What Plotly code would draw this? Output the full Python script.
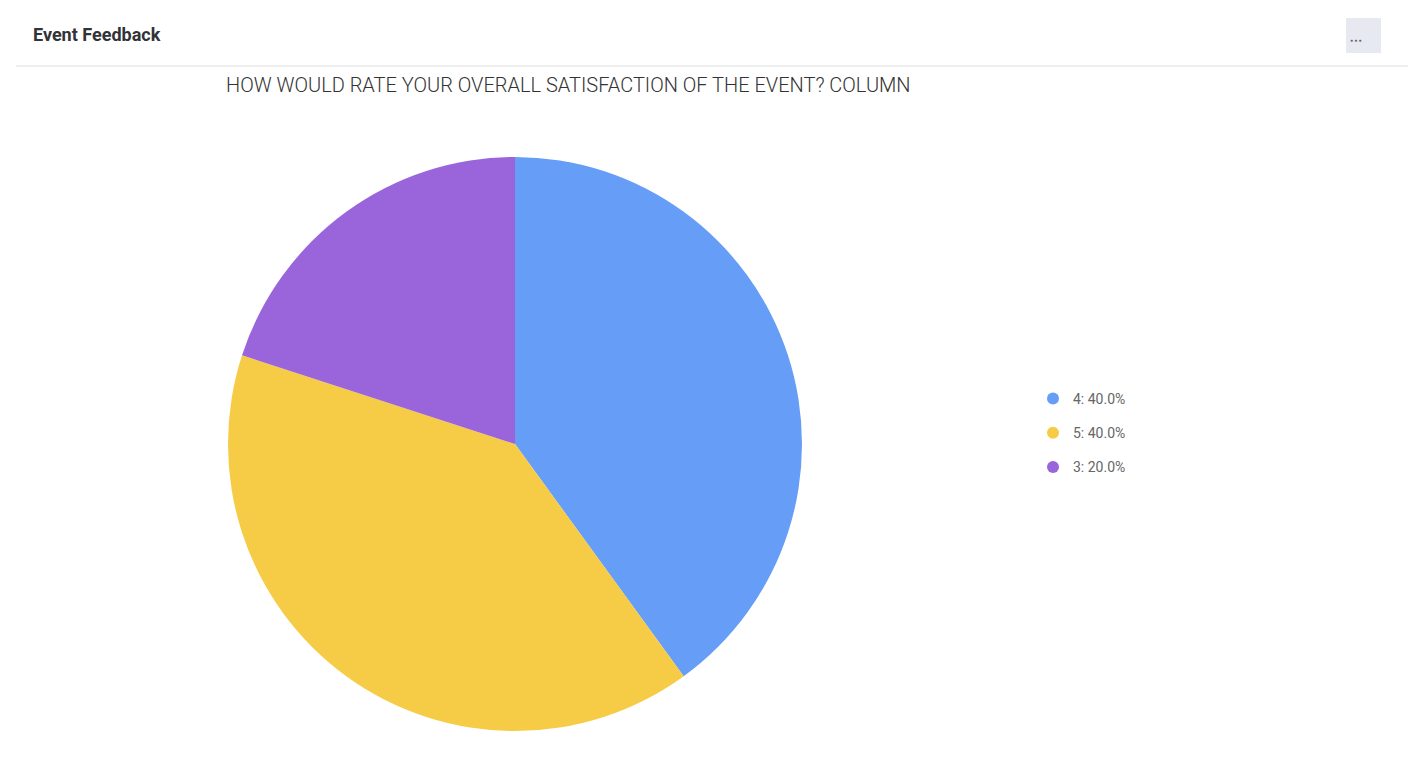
import plotly.graph_objects as go

ratings = ["4", "5", "3"]
shares = [40, 40, 20]
colors = ["#669df6", "#f6cb45", "#9a64da"]

W, H = 1424, 779
OX, OY = 8, 8  # page body margin offset


def px(x):
    return (x - OX) / W


def py(y):
    return 1 - (y - OY) / H


fig = go.Figure()
fig.add_trace(go.Pie(labels=ratings, values=shares, marker=dict(colors=colors, line=dict(width=0)),
                     sort=False, direction="clockwise", textinfo="none", showlegend=False,
                     domain=dict(x=[px(228), px(802)], y=[py(731), py(157)])))
# legend entries with round markers
for r, s, c in zip(ratings, shares, colors):
    fig.add_trace(go.Scatter(x=[None], y=[None], mode="markers", name=f"{r}: {s:.1f}%",
                             legendgroup=r, marker=dict(color=c, size=14, symbol="circle")))

fig.update_layout(
    width=W, height=H, margin=dict(l=0, r=0, t=0, b=0),
    paper_bgcolor="white", plot_bgcolor="white",
    font=dict(family="Roboto", color="#555"),
    xaxis=dict(visible=False), yaxis=dict(visible=False),
    legend=dict(x=px(1033), y=py(433), yanchor="middle", xanchor="left",
                font=dict(size=14, color="#666"), tracegroupgap=13, itemsizing="constant"),
    shapes=[
        dict(type="line", xref="paper", yref="paper", x0=px(16), x1=px(1408), y0=py(66), y1=py(66),
             line=dict(color="#e8e8e8", width=1.5)),
        dict(type="rect", xref="paper", yref="paper", x0=px(1346), x1=px(1381), y0=py(53), y1=py(18),
             fillcolor="#e6e9ef", line=dict(width=0)),
    ],
    annotations=[
        dict(text="<b>Event Feedback</b>", x=px(31), y=py(35), xref="paper", yref="paper",
             xanchor="left", yanchor="middle", showarrow=False,
             font=dict(family="Roboto", size=18, color="#323338")),
        dict(text="● ● ●", x=px(1363.5), y=py(35), xref="paper", yref="paper",
             showarrow=False, font=dict(size=5, color="#676879")),
        dict(text="HOW WOULD RATE YOUR OVERALL SATISFACTION OF THE EVENT? COLUMN",
             x=px(224), y=py(85), xref="paper", yref="paper", xanchor="left", yanchor="middle",
             showarrow=False, font=dict(family="Roboto Light, Roboto", size=20, color="#333")),
    ],
)
fig.write_html("out.html")
